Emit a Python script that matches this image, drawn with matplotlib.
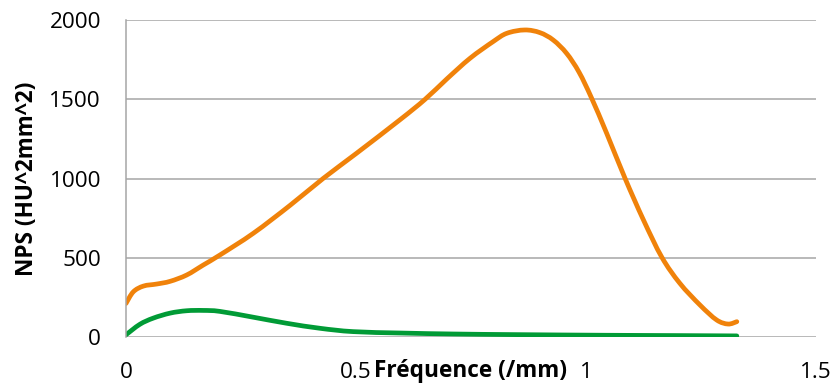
import matplotlib
matplotlib.use("Agg")
import matplotlib.pyplot as plt
from matplotlib.path import Path
from matplotlib.patches import PathPatch

# ----------------------------
# Data
# ----------------------------
freq_orange = [0, 0.016, 0.038, 0.067, 0.096, 0.132, 0.168, 0.204, 0.277, 0.357,
               0.429, 0.501, 0.596, 0.650, 0.697, 0.748, 0.798, 0.828, 0.867,
               0.900, 0.929, 0.958, 0.985, 1.012, 1.045, 1.085, 1.125, 1.165,
               1.204, 1.248, 1.284, 1.309, 1.328]
nps_orange = [210, 284, 320, 333, 350, 390, 453, 516, 654, 831,
              1001, 1159, 1372, 1500, 1628, 1760, 1865, 1918, 1939,
              1922, 1875, 1791, 1672, 1510, 1286, 1001, 738, 502,
              338, 200, 106, 80, 95]

freq_green = [0, 0.030, 0.059, 0.096, 0.132, 0.168, 0.204, 0.277, 0.349,
              0.422, 0.494, 0.600, 0.713, 0.850, 1.047, 1.200, 1.328]
nps_green = [12, 78, 117, 149, 164, 166, 160, 123, 85,
             53, 32, 23, 17, 13, 9, 7, 5]

x_ticks = [0, 0.5, 1, 1.5]
x_tick_labels = ["0", "0.5", "1", "1.5"]
y_ticks = [0, 500, 1000, 1500, 2000]


def smooth_line(ax, xs, ys, color):
    # Excel-style smoothed line: cubic Bezier segments through the points
    pts = list(zip(xs, ys))
    n = len(pts)
    verts = [pts[0]]
    codes = [Path.MOVETO]
    for i in range(n - 1):
        p0 = pts[i - 1] if i > 0 else pts[i]
        p1 = pts[i]
        p2 = pts[i + 1]
        p3 = pts[i + 2] if i + 2 < n else pts[i + 1]
        c1 = (p1[0] + (p2[0] - p0[0]) / 6, p1[1] + (p2[1] - p0[1]) / 6)
        c2 = (p2[0] - (p3[0] - p1[0]) / 6, p2[1] - (p3[1] - p1[1]) / 6)
        verts += [c1, c2, p2]
        codes += [Path.CURVE4] * 3
    patch = PathPatch(Path(verts, codes), fill=False, edgecolor=color, lw=3.4,
                      capstyle="round", joinstyle="round")
    ax.add_patch(patch)


plt.rcParams["font.family"] = ["Open Sans", "DejaVu Sans"]

fig = plt.figure(figsize=(8.36, 3.87), dpi=100)
ax = fig.add_axes([0.1507, 0.130, 0.8253, 0.8175])

smooth_line(ax, freq_orange, nps_orange, "#F0820A")
smooth_line(ax, freq_green, nps_green, "#019B36")

ax.set_xlim(0, 1.5)
ax.set_ylim(0, 2000)
ax.set_xticks(x_ticks)
ax.set_xticklabels(x_tick_labels)
ax.set_yticks(y_ticks)

ax.grid(axis="y", color="#A6A6A6", lw=1.1)
ax.set_axisbelow(True)
for side in ["top", "right", "bottom"]:
    ax.spines[side].set_visible(False)
ax.spines["left"].set_color("#A6A6A6")
ax.spines["left"].set_linewidth(1.1)

ax.tick_params(axis="both", length=0, labelsize=16.2, colors="black")
ax.tick_params(axis="y", pad=18)
ax.tick_params(axis="x", pad=18)

ax.set_xlabel("Fréquence (/mm)", fontsize=16.3, fontweight="bold", va="center")
ax.xaxis.set_label_coords(0.499, -0.108)
ax.set_ylabel("NPS (HU^2mm^2)", fontsize=16.3, fontweight="bold", va="center")
ax.yaxis.set_label_coords(-0.144, 0.5)

fig.savefig("out.png", dpi=100)
plt.close(fig)
